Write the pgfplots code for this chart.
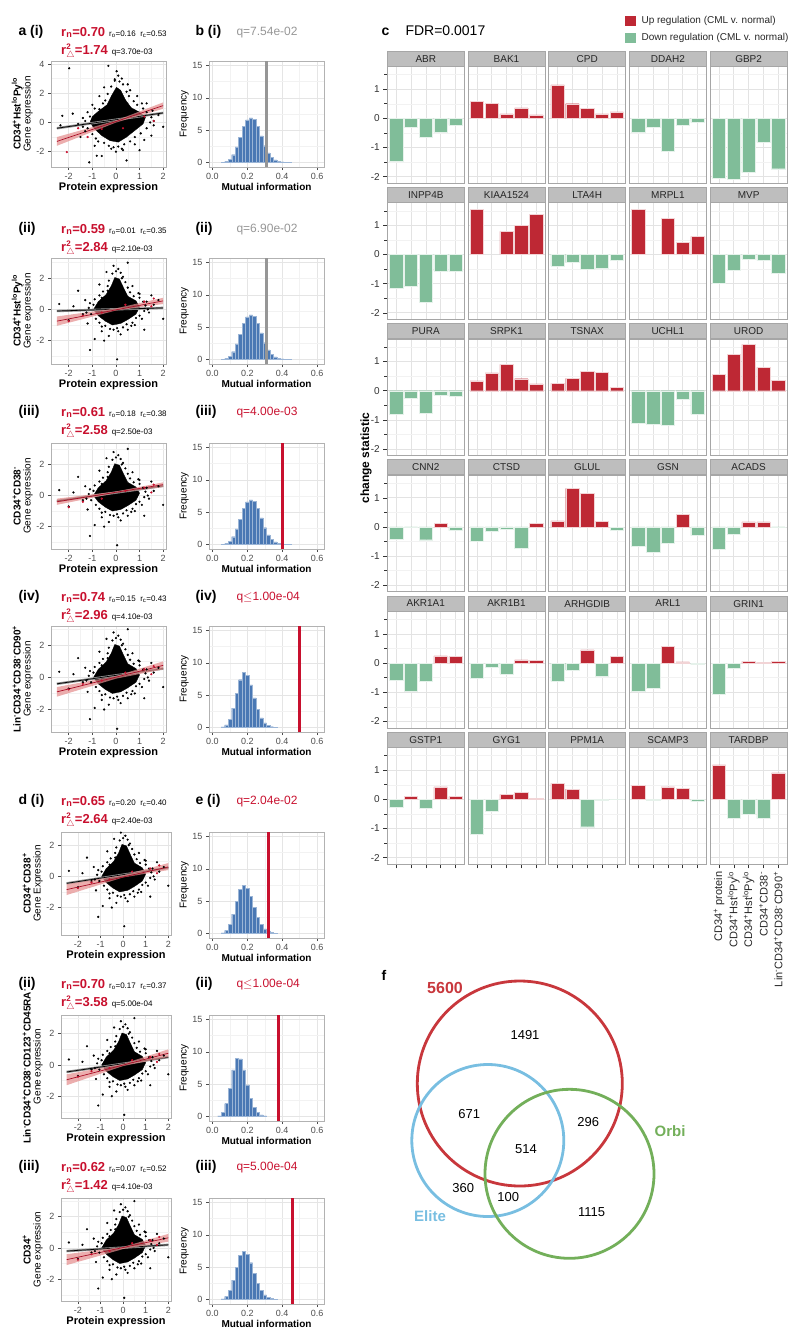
\documentclass[border=0pt]{standalone}
\usepackage{pgfplots}
\pgfplotsset{compat=1.18}
\usepackage{pgfplotstable}
\usepackage{amsmath}
\usepackage{fontspec}
\setmainfont{Liberation Sans}
\newcommand\fs[1]{\fontsize{#1}{#1}\selectfont}
\definecolor{nred}{RGB}{200,16,46}
\definecolor{upc}{RGB}{190,40,52}
\definecolor{dnc}{RGB}{128,189,153}
\definecolor{histc}{RGB}{74,120,180}
\definecolor{band}{RGB}{228,140,140}
\definecolor{vred}{RGB}{200,55,60}
\definecolor{vblue}{RGB}{120,190,225}
\definecolor{vgreen}{RGB}{115,175,90}
\definecolor{strip}{RGB}{190,190,190}
\definecolor{tickc}{RGB}{77,77,77}
\definecolor{qgray}{RGB}{150,150,150}

\pgfplotsset{
  panelbox/.style={scale only axis, anchor=north west,
    axis line style={draw=black!30, line width=0.8pt},
    grid=both, major grid style={black!10, line width=0.6pt},
    minor grid style={black!5, line width=0.4pt},
    tick align=outside, major tick length=3pt, minor tick length=0pt,
    tick style={black!70, line width=0.5pt},
    xtick pos=lower, ytick pos=left,
    ticklabel style={font=\fs{9}, text=tickc},
    /pgf/number format/assume math mode=true},
  scat/.style={panelbox, width=115pt, height=106pt, xmin=-2.75, xmax=2.12,
    xtick={-2,...,2}, minor xtick={-1.5,-0.5,0.5,1.5},
    xlabel={\textbf{Protein expression}}, xlabel style={font=\fs{11}, yshift=4pt},
    ylabel style={align=center, font=\fs{10}, yshift=-3pt}},
  hist/.style={panelbox, width=115pt, height=106pt, xmin=-0.02, xmax=0.64,
    ymin=-0.7, ymax=15.7, xtick={0,0.2,0.4,0.6}, xticklabels={0.0,0.2,0.4,0.6},
    minor xtick={0.1,0.3,0.5}, ytick={0,5,10,15}, minor ytick={2.5,7.5,12.5},
    xlabel={\textbf{Mutual information}}, ylabel={Frequency},
    xlabel style={font=\fs{10}, yshift=4pt}, ylabel style={font=\fs{10}, yshift=-3pt}},
  blk/.style={only marks, mark=*, mark size=0.9pt, black},
  redp/.style={only marks, mark=*, mark size=0.9pt, nred},
  blob/.style={fill=black, draw=black, line width=0.3pt},
  redband/.style={fill=band, draw=none, opacity=0.7},
  redline/.style={color=nred!85!black, line width=0.7pt},
  blkband/.style={color=black!45, line width=2.4pt},
  blkline/.style={black, line width=0.7pt},
  hbar/.style={ybar interval, fill=histc, draw=histc!55!white, line width=0.3pt},
  facet/.style={scale only axis, anchor=north west, width=77pt, height=116.6pt,
    xmin=0.4, xmax=5.6, ymin=-2.23, ymax=1.77, bar width=0.9,
    xtick={1,...,5}, ytick={-2,-1,0,1}, minor ytick={-1.5,-0.5,0.5,1.5},
    grid=both, major grid style={black!11, line width=0.6pt},
    minor grid style={black!5, line width=0.4pt},
    xticklabels={}, yticklabels={}, xtick style={draw=none}, ytick style={draw=none},
    axis line style={draw=black!35, line width=0.9pt},
    ticklabel style={font=\fs{10}, text=black!80},
    /pgf/number format/assume math mode=true,
    every axis title shift=0pt,
    title style={at={(0.5,1)}, anchor=south, fill=strip, draw=black!35, line width=0.9pt,
      minimum width=77pt, minimum height=15pt, inner sep=0pt, font=\fs{10}, text=black!85}},
  fleft/.style={yticklabels={-2,-1,0,1}, ytick style={draw=black!80, line width=0.5pt},
    ytick pos=left, tick align=outside, major tick length=4pt},
  fbottom/.style={xtick style={draw=black!80, line width=0.5pt},
    xtick pos=lower, tick align=outside, major tick length=4pt},
}

% change statistics, one column per gene, one row per population
\pgfplotstableread{
x ABR BAK1 CPD DDAH2 GBP2 INPP4B KIAA1524 LTA4H MRPL1 MVP PURA SRPK1 TSNAX UCHL1 UROD CNN2 CTSD GLUL GSN ACADS AKR1A1 AKR1B1 ARHGDIB ARL1 GRIN1 GSTP1 GYG1 PPM1A SCAMP3 TARDBP
1 -1.46 0.58 1.15 -0.49 -2.05 -1.17 1.56 -0.40 1.55 -0.97 -0.82 0.34 0.25 -1.13 0.55 -0.41 -0.49 0.21 -0.67 -0.78 -0.58 -0.52 -0.63 -0.97 -1.07 -0.28 -1.19 0.55 0.47 1.18
2 -0.29 0.51 0.50 -0.29 -2.08 -1.08 nan -0.28 nan -0.54 -0.25 0.61 0.42 -1.15 1.25 -0.01 -0.14 1.32 -0.86 -0.25 -0.95 -0.15 -0.24 -0.85 -0.17 0.11 -0.42 0.35 -0.04 -0.66
3 -0.66 0.15 0.34 -1.13 -1.86 -1.65 0.79 -0.52 1.25 -0.16 -0.76 0.90 0.67 -1.20 1.59 -0.44 -0.07 1.15 -0.57 0.17 -0.61 -0.37 0.45 0.58 0.06 -0.32 0.17 -0.94 0.43 -0.51
4 -0.48 0.36 0.15 -0.25 -0.83 -0.57 0.99 -0.47 0.41 -0.20 -0.16 0.41 0.64 -0.30 0.80 0.13 -0.73 0.19 0.45 0.17 0.25 0.11 -0.46 0.04 0.03 0.43 0.23 -0.04 0.37 -0.66
5 -0.24 0.12 0.22 -0.15 -1.73 -0.59 1.38 -0.20 0.62 -0.65 -0.18 0.23 0.11 -0.80 0.35 -0.13 0.13 -0.13 -0.30 -0.02 0.22 0.10 0.22 -0.05 0.05 0.09 0.04 -0.01 -0.07 0.91
}\chg

% scatter clouds: dense core outline, fringe points, outliers
\pgfplotstableread{
x y
-1.1 0.0
-0.9 -0.45
-0.6 -0.9
-0.25 -1.25
0.1 -1.35
0.45 -1.0
0.8 -0.55
1.15 -0.1
1.25 0.35
1.0 0.7
0.65 1.0
0.4 1.55
0.2 2.2
0.02 2.4
-0.18 1.85
-0.38 1.2
-0.75 0.75
-1.0 0.4
}\blobA
\pgfplotstableread{
x y
-1.3 0.1
-1.2 -0.4
-1.1 0.4
-1.0 -0.8
-0.85 -1.1
-0.7 0.9
-0.5 -1.4
-0.45 1.5
-0.3 -1.6
-0.1 -1.7
0.1 -1.65
0.35 -1.5
0.6 -1.3
0.8 -1.0
1.05 -0.75
1.3 -0.4
1.45 0.0
1.5 0.35
1.3 0.7
1.15 0.95
0.9 1.2
0.75 1.45
0.55 1.8
0.45 2.1
0.3 2.6
0.15 2.8
-0.05 2.85
-0.2 2.45
-0.35 1.95
-0.55 1.3
-0.9 0.95
-1.2 0.7
1.6 -0.2
1.1 1.3
-1.4 -0.3
0.25 -1.8
-0.75 -1.3
-1.98 3.7
-0.32 3.87
0.03 3.5
0.1 3.2
-0.05 2.95
0.25 3.0
-2.27 0.45
-1.83 0.6
-2.35 -0.2
-1.6 -0.1
-1.4 0.3
-1.3 -0.6
-1.5 -1.0
-0.81 -2.28
-0.6 -2.3
-1.13 -2.73
0.45 -2.6
0.3 -1.9
-0.2 -1.8
0.8 -1.5
1.2 -1.2
1.5 -0.9
2.0 -0.3
1.6 0.1
1.8 0.5
1.55 0.8
1.3 1.3
0.9 1.8
0.6 2.2
0.5 2.6
-0.5 2.4
-0.7 1.8
-1.0 1.2
-0.9 -1.6
0.0 -2.0
1.0 -1.9
}\ptsA
\pgfplotstableread{
x y
-0.95 0.0
-0.75 -0.4
-0.45 -0.75
-0.15 -1.0
0.2 -0.9
0.5 -0.65
0.85 -0.3
1.0 0.15
0.85 0.55
0.5 0.85
0.32 1.4
0.15 1.95
-0.05 2.05
-0.2 1.5
-0.42 0.95
-0.75 0.5
}\blobB
\pgfplotstableread{
x y
-1.15 0.1
-1.05 -0.3
-0.95 0.3
-0.85 -0.6
-0.7 -0.85
-0.6 0.75
-0.45 -1.05
-0.35 1.2
-0.25 -1.25
-0.1 -1.3
0.05 -1.2
0.3 -1.15
0.45 -0.95
0.7 -0.85
0.85 -0.55
1.0 -0.4
1.2 -0.1
1.25 0.25
1.15 0.5
1.0 0.75
0.75 0.85
0.6 1.1
0.5 1.4
0.4 1.75
0.25 2.0
0.2 2.35
0.0 2.45
-0.15 2.3
-0.3 1.85
-0.35 1.5
-0.55 1.15
-0.7 0.9
-0.9 0.65
-1.1 0.4
1.35 0.0
0.95 1.05
-1.25 -0.2
0.1 -1.4
-0.6 -1.1
0.65 -1.05
-2.4 0.35
-2.0 -0.7
-1.8 0.2
-1.6 1.2
-1.4 -0.3
-1.3 0.6
-1.2 -0.9
-1.1 -2.6
-0.9 -1.9
-0.7 1.6
-0.6 -1.4
-0.4 2.4
-0.3 -1.7
-0.1 2.8
0.05 -3.2
0.1 2.6
0.2 -1.6
0.3 2.1
0.5 3.0
0.5 -1.3
0.7 1.5
0.8 -1.0
1.0 1.0
1.1 -0.6
1.3 0.5
1.4 -0.2
1.5 0.9
1.6 0.3
1.8 0.6
2.0 -0.6
1.2 -1.3
-0.5 -2.0
}\ptsB
\pgfplotstableread{
x y
-2.0 -0.75
-1.4 -0.4
-0.6 -0.2
0.4 0.3
1.2 0.5
1.6 0.7
1.5 0.2
}\redB

% histograms (left bin edges, density)
\pgfplotstableread{
x y
0.05 0.05
0.07 0.15
0.09 0.5
0.11 1.2
0.13 2.4
0.15 3.9
0.17 5.6
0.19 6.6
0.21 6.9
0.23 6.7
0.25 5.6
0.27 4.1
0.29 2.6
0.31 1.5
0.33 0.8
0.35 0.4
0.37 0.2
0.39 0.1
0.41 0.05
0.43 0.02
0.45 0
}\histA
\pgfplotstableread{
x y
0.05 0.1
0.07 0.4
0.09 1.3
0.11 3.0
0.13 5.3
0.15 7.4
0.17 8.5
0.19 8.1
0.21 6.6
0.23 4.6
0.25 2.8
0.27 1.5
0.29 0.7
0.31 0.3
0.33 0.12
0.35 0.05
0.37 0
}\histB
\pgfplotstableread{
x y
0.05 0.1
0.07 0.5
0.09 1.4
0.11 3.0
0.13 5.0
0.15 6.8
0.17 7.5
0.19 7.0
0.21 5.7
0.23 4.0
0.25 2.5
0.27 1.4
0.29 0.7
0.31 0.35
0.33 0.15
0.35 0.05
0.37 0
}\histC
\pgfplotstableread{
x y
0.03 0.1
0.05 0.6
0.07 2.0
0.09 4.4
0.11 7.2
0.13 9.0
0.15 8.9
0.17 7.2
0.19 4.9
0.21 2.8
0.23 1.4
0.25 0.6
0.27 0.25
0.29 0.1
0.31 0
}\histD

% header of a scatter panel: y, label, rn, ro, rc, r2, q
\newcommand\shead[7]{%
  \node[anchor=mid west, font=\fs{14}\bfseries] at (15pt,{-#1*1pt}) {#2};
  \node[anchor=base west, inner sep=0pt] at (61pt,{-(#1+3)*1pt})
    {\textcolor{nred}{\fs{13}\bfseries r\textsubscript{n}=#3}\,{\fs{8}\ r\textsubscript{o}=#4\ \ r\textsubscript{c}=#5}};
  \node[anchor=base west, inner sep=0pt] at (61pt,{-(#1+21)*1pt})
    {\textcolor{nred}{\fs{13}\bfseries r$^{\text{\fs{8}\bfseries 2}}_{\triangle}$=#6}\,{\fs{8}\ q=#7}};}
% header of a histogram panel: y, label, q, colour
\newcommand\hhead[4]{%
  \node[anchor=mid west, font=\fs{14}\bfseries] at (192pt,{-#1*1pt}) {#2};
  \node[anchor=mid west, font=\fs{12}, text=#4] at (233pt,{-#1*1pt}) {#3};}

\newcommand\facet[4]{%
  \begin{axis}[facet, at={({(387.3+80.7*#1)*1pt},{-(66.7+136.2*#2)*1pt})}, title={#3}, #4]
    \addplot[ybar, bar width=0.9, bar shift=0pt, fill=upc, draw=white!80!upc, line width=0.4pt,
      y filter/.expression={y>=0 ? y : nan}]
      table[x=x, y=#3] {\chg};
    \addplot[ybar, bar width=0.9, bar shift=0pt, fill=dnc, draw=white!80!dnc, line width=0.4pt,
      y filter/.expression={y<0 ? y : nan}]
      table[x=x, y=#3] {\chg};
  \end{axis}}

\begin{document}
\begin{tikzpicture}
\useasboundingbox (0pt,0pt) rectangle (800pt,-1331pt);

% ---------------- a (i)
\shead{33}{a (i)}{0.70}{0.16}{0.53}{1.74}{3.70e-03}
\begin{axis}[scat, at={(51pt,-61pt)}, ymin=-3.05, ymax=4.2, ytick={-2,0,2,4}, minor ytick={-1,1,3},
  ylabel={\textbf{CD34\textsuperscript{+}Hst\textsuperscript{lo}Py\textsuperscript{lo}}\\Gene expression}]
  \addplot[blob] table {\blobA} -- cycle;
  \addplot[blk] table {\ptsA};
  \addplot[blkband] coordinates {(-2.5,-0.40) (2,0.65)};
  \addplot[blkline] coordinates {(-2.5,-0.40) (2,0.65)};
  \addplot[redband] coordinates {(-2.5,-1.60) (0,-0.01) (2,0.93) (2,1.37) (0,0.13) (-2.5,-1.0)} -- cycle;
  \addplot[redline] coordinates {(-2.5,-1.30) (2,1.15)};
  \addplot[redp] coordinates {(-2.08,-2.03) (-1.6,-0.4) (-1.2,-1.0) (-0.6,-0.45) (0.3,-0.4) (1.2,0.4) (1.6,0.1)};
\end{axis}
\hhead{33}{b (i)}{q=7.54e-02}{qgray}
\begin{axis}[hist, at={(209pt,-61pt)}]
  \addplot[hbar] table {\histA};
  \addplot[qgray, line width=2.7pt] coordinates {(0.31,-0.7) (0.31,15.7)};
\end{axis}

% ---------------- a (ii)
\shead{230}{(ii)}{0.59}{0.01}{0.35}{2.84}{2.10e-03}
\begin{axis}[scat, at={(51pt,-258pt)}, ymin=-3.5, ymax=3.3, ytick={-2,0,2}, minor ytick={-3,-1,1,3},
  ylabel={\textbf{CD34\textsuperscript{+}Hst\textsuperscript{lo}Py\textsuperscript{lo}}\\Gene expression}]
  \addplot[blob] table {\blobB} -- cycle;
  \addplot[blk] table {\ptsB};
  \addplot[blkband] coordinates {(-2.5,-0.10) (2,0.10)};
  \addplot[blkline] coordinates {(-2.5,-0.10) (2,0.10)};
  \addplot[redband] coordinates {(-2.5,-1.05) (0,-0.07) (2,0.35) (2,0.75) (0,0.07) (-2.5,-0.45)} -- cycle;
  \addplot[redline] coordinates {(-2.5,-0.75) (2,0.55)};
  \addplot[redp] table {\redB};
\end{axis}
\hhead{230}{(ii)}{q=6.90e-02}{qgray}
\begin{axis}[hist, at={(209pt,-258pt)}]
  \addplot[hbar] table {\histA};
  \addplot[qgray, line width=2.7pt] coordinates {(0.31,-0.7) (0.31,15.7)};
\end{axis}

% ---------------- a (iii)
\shead{413}{(iii)}{0.61}{0.18}{0.38}{2.58}{2.50e-03}
\begin{axis}[scat, at={(51pt,-443pt)}, ymin=-3.44, ymax=3.38, ytick={-2,0,2}, minor ytick={-3,-1,1,3},
  ylabel={\textbf{CD34\textsuperscript{+}CD38\textsuperscript{-}}\\Gene expression}]
  \addplot[blob] table {\blobB} -- cycle;
  \addplot[blk] table {\ptsB};
  \addplot[blkband] coordinates {(-2.5,-0.35) (2,0.62)};
  \addplot[blkline] coordinates {(-2.5,-0.35) (2,0.62)};
  \addplot[redband] coordinates {(-2.5,-0.60) (0,0.16) (2,0.55) (2,0.85) (0,0.26) (-2.5,-0.20)} -- cycle;
  \addplot[redline] coordinates {(-2.5,-0.40) (2,0.70)};
  \addplot[redp] table {\redB};
\end{axis}
\hhead{413}{(iii)}{q=4.00e-03}{nred}
\begin{axis}[hist, at={(209pt,-443pt)}]
  \addplot[hbar] table {\histA};
  \addplot[nred, line width=3pt] coordinates {(0.40,-0.7) (0.40,15.7)};
\end{axis}

% ---------------- a (iv)
\shead{598}{(iv)}{0.74}{0.15}{0.43}{2.96}{4.10e-03}
\begin{axis}[scat, at={(51pt,-626pt)}, ymin=-3.4, ymax=3.2, ytick={-2,0,2}, minor ytick={-3,-1,1,3},
  ylabel={\textbf{Lin\textsuperscript{-}CD34\textsuperscript{+}CD38\textsuperscript{-}CD90\textsuperscript{+}}\\Gene expression}]
  \addplot[blob] table {\blobB} -- cycle;
  \addplot[blk] table {\ptsB};
  \addplot[blkband] coordinates {(-2.5,-0.40) (2,0.55)};
  \addplot[blkline] coordinates {(-2.5,-0.40) (2,0.55)};
  \addplot[redband] coordinates {(-2.5,-1.20) (0,-0.08) (2,0.50) (2,1.00) (0,0.08) (-2.5,-0.60)} -- cycle;
  \addplot[redline] coordinates {(-2.5,-0.90) (2,0.75)};
  \addplot[redp] table {\redB};
\end{axis}
\hhead{598}{(iv)}{q$\leq$1.00e-04}{nred}
\begin{axis}[hist, at={(209pt,-626pt)}]
  \addplot[hbar] table {\histB};
  \addplot[nred, line width=3pt] coordinates {(0.50,-0.7) (0.50,15.7)};
\end{axis}

% ---------------- d (i)
\shead{802}{d (i)}{0.65}{0.20}{0.40}{2.64}{2.40e-03}
\begin{axis}[scat, at={(61pt,-832pt)}, width=110pt, height=103pt, ymin=-3.76, ymax=2.84, ytick={-2,0,2}, minor ytick={-3,-1,1},
  ylabel={\textbf{CD34\textsuperscript{+}CD38\textsuperscript{+}}\\Gene Expression}]
  \addplot[blob] table {\blobB} -- cycle;
  \addplot[blk] table {\ptsB};
  \addplot[blkband] coordinates {(-2.5,-0.45) (2,0.55)};
  \addplot[blkline] coordinates {(-2.5,-0.45) (2,0.55)};
  \addplot[redband] coordinates {(-2.5,-1.20) (0,-0.07) (2,0.40) (2,0.85) (0,0.07) (-2.5,-0.50)} -- cycle;
  \addplot[redline] coordinates {(-2.5,-0.85) (2,0.60)};
  \addplot[redp] table {\redB};
\end{axis}
\hhead{802}{e (i)}{q=2.04e-02}{nred}
\begin{axis}[hist, at={(209pt,-832pt)}]
  \addplot[hbar] table {\histC};
  \addplot[nred, line width=3pt] coordinates {(0.32,-0.7) (0.32,15.7)};
\end{axis}

% ---------------- d (ii)
\shead{985}{(ii)}{0.70}{0.17}{0.37}{3.58}{5.00e-04}
\begin{axis}[scat, at={(61pt,-1015pt)}, width=110pt, height=103pt, ymin=-3.4, ymax=3.2, ytick={-2,0,2}, minor ytick={-3,-1,1,3},
  ylabel={\textbf{Lin\textsuperscript{-}CD34\textsuperscript{+}CD38\textsuperscript{-}CD123\textsuperscript{+}CD45RA\textsuperscript{-}}\\Gene expression}]
  \addplot[blob] table {\blobB} -- cycle;
  \addplot[blk] table {\ptsB};
  \addplot[blkband] coordinates {(-2.5,-0.45) (2,0.50)};
  \addplot[blkline] coordinates {(-2.5,-0.45) (2,0.50)};
  \addplot[redband] coordinates {(-2.5,-1.30) (0,-0.07) (2,0.50) (2,1.00) (0,0.07) (-2.5,-0.60)} -- cycle;
  \addplot[redline] coordinates {(-2.5,-0.95) (2,0.75)};
  \addplot[redp] table {\redB};
\end{axis}
\hhead{985}{(ii)}{q$\leq$1.00e-04}{nred}
\begin{axis}[hist, at={(209pt,-1015pt)}]
  \addplot[hbar] table {\histD};
  \addplot[nred, line width=3pt] coordinates {(0.38,-0.7) (0.38,15.7)};
\end{axis}

% ---------------- d (iii)
\shead{1168}{(iii)}{0.62}{0.07}{0.52}{1.42}{4.10e-03}
\begin{axis}[scat, at={(61pt,-1198pt)}, width=110pt, height=103pt, ymin=-3.4, ymax=3.2, ytick={-2,0,2}, minor ytick={-3,-1,1,3},
  ylabel={\textbf{CD34\textsuperscript{+}}\\Gene expression}]
  \addplot[blob] table {\blobB} -- cycle;
  \addplot[blk] table {\ptsB};
  \addplot[blkband] coordinates {(-2.5,-0.20) (2,0.20)};
  \addplot[blkline] coordinates {(-2.5,-0.20) (2,0.20)};
  \addplot[redband] coordinates {(-2.5,-1.10) (0,-0.07) (2,0.40) (2,0.90) (0,0.07) (-2.5,-0.40)} -- cycle;
  \addplot[redline] coordinates {(-2.5,-0.75) (2,0.65)};
  \addplot[redp] table {\redB};
\end{axis}
\hhead{1168}{(iii)}{q=5.00e-04}{nred}
\begin{axis}[hist, at={(209pt,-1198pt)}]
  \addplot[hbar] table {\histC};
  \addplot[nred, line width=3pt] coordinates {(0.46,-0.7) (0.46,15.7)};
\end{axis}

% ---------------- c
\node[anchor=mid west, font=\fs{14}\bfseries] at (378pt,-33pt) {c};
\node[anchor=mid west, font=\fs{14}] at (402pt,-33pt) {FDR=0.0017};
\node[fill=upc, minimum width=11pt, minimum height=10pt, inner sep=0pt] at (630.5pt,-21pt) {};
\node[anchor=mid west, font=\fs{10}, text=black!85] at (638pt,-21pt) {Up regulation (CML v. normal)};
\node[fill=dnc, minimum width=11pt, minimum height=10pt, inner sep=0pt] at (630.5pt,-37.5pt) {};
\node[anchor=mid west, font=\fs{10}, text=black!85] at (638pt,-37.5pt) {Down regulation (CML v. normal)};
\node[rotate=90, font=\fs{12}\bfseries] at (366pt,-458pt) {change statistic};

\facet{0}{0}{ABR}{fleft}
\facet{1}{0}{BAK1}{}
\facet{2}{0}{CPD}{}
\facet{3}{0}{DDAH2}{}
\facet{4}{0}{GBP2}{}
\facet{0}{1}{INPP4B}{fleft}
\facet{1}{1}{KIAA1524}{}
\facet{2}{1}{LTA4H}{}
\facet{3}{1}{MRPL1}{}
\facet{4}{1}{MVP}{}
\facet{0}{2}{PURA}{fleft}
\facet{1}{2}{SRPK1}{}
\facet{2}{2}{TSNAX}{}
\facet{3}{2}{UCHL1}{}
\facet{4}{2}{UROD}{}
\facet{0}{3}{CNN2}{fleft}
\facet{1}{3}{CTSD}{}
\facet{2}{3}{GLUL}{}
\facet{3}{3}{GSN}{}
\facet{4}{3}{ACADS}{}
\facet{0}{4}{AKR1A1}{fleft}
\facet{1}{4}{AKR1B1}{}
\facet{2}{4}{ARHGDIB}{}
\facet{3}{4}{ARL1}{}
\facet{4}{4}{GRIN1}{}
\facet{0}{5}{GSTP1}{fleft, fbottom}
\facet{1}{5}{GYG1}{fbottom}
\facet{2}{5}{PPM1A}{fbottom}
\facet{3}{5}{SCAMP3}{fbottom}
\facet{4}{5}{TARDBP}{fbottom, xticklabels={CD34\textsuperscript{+} protein, CD34\textsuperscript{+}Hst\textsuperscript{lo}Py\textsuperscript{lo}, CD34\textsuperscript{+}Hst\textsuperscript{lo}Py\textsuperscript{lo}, CD34\textsuperscript{+}CD38\textsuperscript{-}, Lin\textsuperscript{-}CD34\textsuperscript{+}CD38\textsuperscript{-}CD90\textsuperscript{+}}, xticklabel style={rotate=90, anchor=east, font=\fs{11}, text=black!85}}

% ---------------- f
\node[anchor=mid west, font=\fs{14}\bfseries] at (378pt,-978pt) {f};
\begin{axis}[at={(380pt,-960pt)}, anchor=north west, scale only axis, width=420pt, height=371pt,
  xmin=380, xmax=800, ymin=-1331, ymax=-960, hide axis, clip=false]
  \addplot[only marks, mark=o, mark size=102.5pt, mark options={draw=vred, line width=2.8pt}] coordinates {(519.8,-1083.5)};
  \addplot[only marks, mark=o, mark size=76pt, mark options={draw=vblue, line width=2.8pt}] coordinates {(487.8,-1140.5)};
  \addplot[only marks, mark=o, mark size=84.5pt, mark options={draw=vgreen, line width=2.8pt}] coordinates {(569.5,-1173.8)};
  \node[font=\fs{16}\bfseries, text=vred] at (axis cs:445,-987.7) {5600};
  \node[font=\fs{15}\bfseries, text=vblue] at (axis cs:430,-1216) {Elite};
  \node[font=\fs{15}\bfseries, text=vgreen] at (axis cs:670,-1130.7) {Orbi};
  \node[font=\fs{13}] at (axis cs:525,-1035) {1491};
  \node[font=\fs{13}] at (axis cs:469.3,-1114) {671};
  \node[font=\fs{13}] at (axis cs:588.3,-1122.3) {296};
  \node[font=\fs{13}] at (axis cs:526,-1149) {514};
  \node[font=\fs{13}] at (axis cs:463.3,-1188.3) {360};
  \node[font=\fs{13}] at (axis cs:508.3,-1196.7) {100};
  \node[font=\fs{13}] at (axis cs:591.7,-1211.7) {1115};
\end{axis}
\end{tikzpicture}
\end{document}
